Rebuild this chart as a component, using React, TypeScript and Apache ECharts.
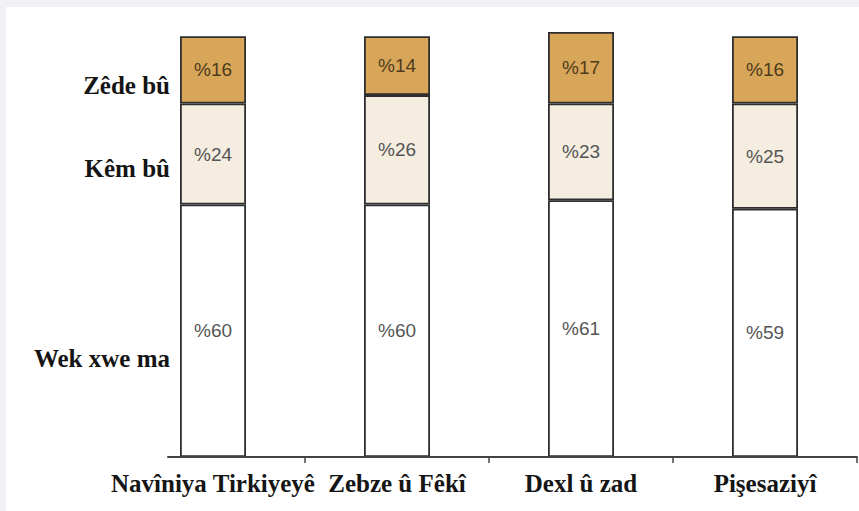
import React, { useEffect, useRef } from "react";
import * as echarts from "echarts";

const categories = ["Navîniya Tirkiyeyê", "Zebze û Fêkî", "Dexl û zad", "Pişesaziyî"];
const seriesNames = ["Wek xwe ma", "Kêm bû", "Zêde bû"];
const wekXweMa = [60, 60, 61, 59];
const kemBu = [24, 26, 23, 25];
const zedeBu = [16, 14, 17, 16];
const tickPositions = [0.5, 1.5, 2.5, 3.5];

const seriesValues = [wekXweMa, kemBu, zedeBu];
const fills = ["#ffffff", "#f5ede0", "#d8a658"];
const labelColors = ["#555555", "#555555", "#4f3b1c"];

export default function App() {
  const ref = useRef<HTMLDivElement>(null);
  useEffect(() => {
    if (!ref.current) return;
    const chart = echarts.init(ref.current, null, { renderer: "svg" });
    const serif = "'Liberation Serif', 'Times New Roman', serif";
    chart.setOption({
      animation: false,
      backgroundColor: "#ffffff",
      grid: [
        { left: 115, right: 2, top: 25, bottom: 54 },
        { left: 162, right: 2, top: 25, bottom: 54 },
      ],
      xAxis: [
        {
          type: "category",
          gridIndex: 0,
          data: categories,
          axisLine: { show: false },
          axisTick: { show: false },
          splitLine: { show: false },
          axisLabel: {
            fontFamily: serif,
            fontWeight: "bold",
            fontSize: 25,
            color: "#151515",
            margin: 14,
            interval: 0,
          },
        },
        {
          type: "value",
          gridIndex: 1,
          min: -0.2446,
          max: 3.5,
          splitLine: { show: false },
          axisLine: { show: true, lineStyle: { color: "#444444", width: 2 } },
          axisTick: {
            show: true,
            customValues: tickPositions,
            length: 6,
            lineStyle: { color: "#444444", width: 1.5 },
          },
          axisLabel: { show: false },
          z: 10,
        },
      ],
      yAxis: [
        { type: "value", gridIndex: 0, min: 0, max: 101, show: false, splitLine: { show: false } },
        { type: "value", gridIndex: 1, min: 0, max: 101, show: false, splitLine: { show: false } },
      ],
      series: seriesNames.map((name, s) => ({
        name,
        type: "bar",
        stack: "total",
        xAxisIndex: 0,
        yAxisIndex: 0,
        barWidth: 66,
        data: seriesValues[s],
        itemStyle: { color: fills[s], borderColor: "#2e2e2e", borderWidth: 1.8 },
        label: {
          show: true,
          position: "inside",
          formatter: (p: any) => "%" + p.value,
          fontFamily: "'Liberation Sans', Arial, sans-serif",
          fontSize: 19,
          color: labelColors[s],
        },
      })),
      graphic: [
        { name: seriesNames[2], y: 78 },
        { name: seriesNames[1], y: 161 },
        { name: seriesNames[0], y: 351 },
      ].map((t) => ({
        type: "text",
        x: 164,
        y: t.y,
        style: {
          text: t.name,
          font: "bold 25px " + serif,
          fill: "#151515",
          textAlign: "right",
          textVerticalAlign: "middle",
        },
      })),
    });
    return () => chart.dispose();
  }, []);
  return (
    <div
      style={{
        position: "fixed",
        left: 0,
        top: 0,
        width: 859,
        height: 511,
        background: "#f1f0f4",
      }}
    >
      <div
        ref={ref}
        style={{ position: "absolute", left: 6, top: 7, width: 853, height: 504 }}
      />
    </div>
  );
}
